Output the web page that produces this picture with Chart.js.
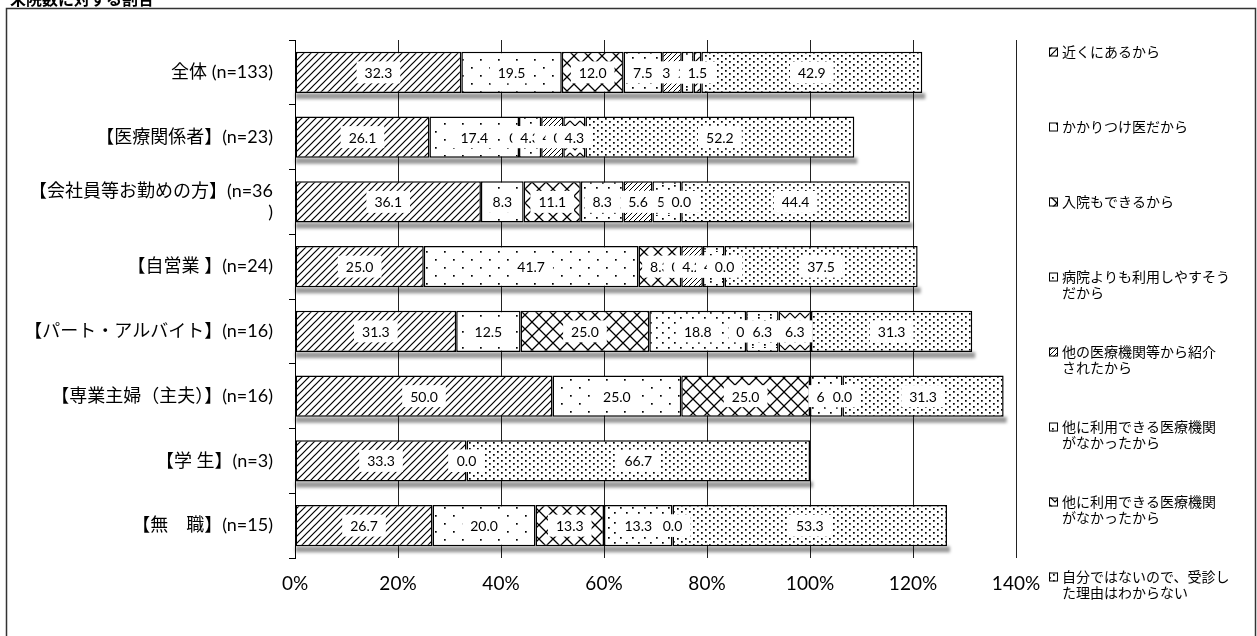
<!DOCTYPE html>
<html>
<head>
<meta charset="utf-8">
<script src="https://cdn.jsdelivr.net/npm/chart.js@4.4.0/dist/chart.umd.min.js"></script>
<style>
  body { margin: 0; background: #fff; }
  canvas { display: block; }
</style>
</head>
<body>
<canvas id="myChart" width="1257" height="636"></canvas>
<script>
// カテゴリ（属性）
var categories = ['全体 (n=133)', '【医療関係者】(n=23)', ['【会社員等お勤めの方】(n=36', ')'],
  '【自営業 】(n=24)', '【パート・アルバイト】(n=16)', '【専業主婦（主夫）】(n=16)', '【学 生】(n=3)', '【無　職】(n=15)'];

// 凡例（理由）
var reasons = [
  ['近くにあるから'],
  ['かかりつけ医だから'],
  ['入院もできるから'],
  ['病院よりも利用しやすそう', 'だから'],
  ['他の医療機関等から紹介', 'されたから'],
  ['他に利用できる医療機関', 'がなかったから'],
  ['他に利用できる医療機関', 'がなかったから'],
  ['自分ではないので、受診し', 'た理由はわからない']
];

// 各理由の割合（%）
var near     = [32.3, 26.1, 36.1, 25.0, 31.3, 50.0, 33.3, 26.7];
var family   = [19.5, 17.4,  8.3, 41.7, 12.5, 25.0,  0.0, 20.0];
var inpat    = [12.0,  0.0, 11.1,  8.3, 25.0, 25.0,  0.0, 13.3];
var easier   = [ 7.5,  4.3,  8.3,  0.0, 18.8,  6.3,  0.0, 13.3];
var referred = [ 3.8,  4.3,  5.6,  4.2,  0.0,  0.0,  0.0,  0.0];
var noOther1 = [ 2.3,  0.0,  5.6,  4.2,  6.3,  0.0,  0.0,  0.0];
var noOther2 = [ 1.5,  4.3,  0.0,  0.0,  6.3,  0.0,  0.0,  0.0];
var unknown  = [42.9, 52.2, 44.4, 37.5, 31.3, 31.3, 66.7, 53.3];

var xTicks = [0, 20, 40, 60, 80, 100, 120, 140];

var canvas = document.getElementById('myChart');
var ctx = canvas.getContext('2d');

// 模様を作る
function tile(w, h, draw) {
  var c = document.createElement('canvas');
  c.width = w; c.height = h;
  var g = c.getContext('2d');
  g.fillStyle = '#fff';
  g.fillRect(0, 0, w, h);
  g.strokeStyle = '#000';
  g.fillStyle = '#000';
  draw(g);
  return ctx.createPattern(c, 'repeat');
}
function dots(list) {
  return function (g) {
    list.forEach(function (p) { g.fillRect(p[0], p[1], 1.7, 1.7); });
  };
}
function diag(n, lw) {
  return function (g) {
    g.lineWidth = lw;
    g.beginPath();
    g.moveTo(-1, n + 1); g.lineTo(n + 1, -1);
    g.moveTo(-1, 1); g.lineTo(1, -1);
    g.moveTo(n - 1, n + 1); g.lineTo(n + 1, n - 1);
    g.stroke();
  };
}

var patterns = [
  tile(7, 7, diag(7, 1.2)),
  tile(18, 16, dots([[3, 3], [12, 11]])),
  tile(14, 14, function (g) {
    g.lineWidth = 1.3;
    g.beginPath();
    g.moveTo(0, 0); g.lineTo(14, 14);
    g.moveTo(14, 0); g.lineTo(0, 14);
    g.stroke();
  }),
  tile(12, 10, dots([[2, 2], [8, 7]])),
  tile(5, 5, diag(5, 1)),
  tile(12, 12, dots([[2, 2], [2, 5], [8, 8], [8, 11]])),
  tile(10, 8, function (g) {
    g.lineWidth = 1.2;
    g.beginPath();
    g.moveTo(0, 1); g.lineTo(5, 6); g.lineTo(10, 1);
    g.stroke();
  }),
  tile(8, 6, dots([[1, 1], [5, 4]]))
];

var series = [near, family, inpat, easier, referred, noOther1, noOther2, unknown];

var numFont = "Lato, 'Noto Sans CJK JP', sans-serif";
var jpFont = "Lato, 'Noto Sans CJK JP', sans-serif";

// 影
var shadowPlugin = {
  id: 'barShadow',
  beforeDatasetsDraw: function (chart) {
    var metas = chart.getSortedVisibleDatasetMetas();
    var c = chart.ctx;
    for (var i = 0; i < categories.length; i++) {
      var left = Infinity, right = -Infinity, y = 0, h = 0;
      metas.forEach(function (m) {
        var el = m.data[i];
        left = Math.min(left, el.base, el.x);
        right = Math.max(right, el.base, el.x);
        y = el.y; h = el.height;
      });
      c.save();
      c.filter = 'blur(1.5px)';
      c.fillStyle = 'rgba(0,0,0,0.4)';
      c.fillRect(left, y + h / 2, right - left + 3, 6);
      c.restore();
    }
  }
};

// データラベル
var labelPlugin = {
  id: 'valueLabels',
  afterDatasetsDraw: function (chart) {
    var c = chart.ctx;
    c.save();
    c.font = '14px ' + numFont;
    c.textAlign = 'center';
    c.textBaseline = 'middle';
    chart.getSortedVisibleDatasetMetas().forEach(function (m) {
      var data = chart.data.datasets[m.index].data;
      m.data.forEach(function (el, i) {
        var txt = data[i].toFixed(1);
        var cx = (el.x + el.base) / 2;
        var tw = c.measureText(txt).width;
        c.fillStyle = '#fff';
        c.fillRect(cx - tw / 2 - 8, el.y - 11, tw + 16, 22);
        c.fillStyle = '#000';
        c.fillText(txt, cx, el.y + 1);
      });
    });
    c.restore();
  }
};

// 枠・タイトル・凡例
var framePlugin = {
  id: 'frame',
  beforeDraw: function (chart) {
    var c = chart.ctx;
    c.save();
    c.fillStyle = '#fff';
    c.fillRect(0, 0, chart.width, chart.height);
    c.restore();
  },
  afterDraw: function (chart) {
    var c = chart.ctx;
    c.save();
    c.strokeStyle = '#333';
    c.lineWidth = 1.5;
    c.strokeRect(6.5, 8.5, 1249, 700);

    c.fillStyle = '#000';
    c.font = "bold 16px 'Noto Sans CJK JP', sans-serif";
    c.textBaseline = 'alphabetic';
    c.textAlign = 'left';
    c.fillText('来院数に対する割合', 10, 5);

    c.font = "14px 'Noto Sans CJK JP', sans-serif";
    c.textBaseline = 'middle';
    reasons.forEach(function (lines, k) {
      var yc = 52 + k * 75;
      c.fillStyle = patterns[k];
      c.fillRect(1049, yc - 4.5, 9, 9);
      c.strokeStyle = '#000';
      c.lineWidth = 1;
      c.strokeRect(1049.5, yc - 4, 8, 8);
      c.fillStyle = '#000';
      lines.forEach(function (t, j) {
        c.fillText(t, 1062, yc + j * 16);
      });
    });
    c.restore();
  }
};

var datasets = series.map(function (vals, k) {
  return {
    label: reasons[k].join(''),
    data: vals,
    backgroundColor: patterns[k],
    borderColor: '#000',
    borderWidth: 1.5,
    borderSkipped: false,
    categoryPercentage: 0.64,
    barPercentage: 1
  };
});

var myChart = new Chart(canvas, {
  type: 'bar',
  data: { labels: categories, datasets: datasets },
  plugins: [framePlugin, shadowPlugin, labelPlugin],
  options: {
    indexAxis: 'y',
    responsive: false,
    animation: false,
    devicePixelRatio: 1,
    layout: { padding: { left: 0, right: 241, top: 40, bottom: 0 } },
    plugins: { legend: { display: false }, tooltip: { enabled: false } },
    scales: {
      x: {
        stacked: true,
        min: 0,
        max: 140,
        afterBuildTicks: function (s) { s.ticks = xTicks.map(function (v) { return { value: v }; }); },
        afterFit: function (s) { s.height = 78; },
        ticks: {
          callback: function (v) { return v + '%'; },
          color: '#000',
          font: { size: 19, family: numFont },
          padding: 14,
          maxRotation: 0
        },
        grid: { color: '#222', lineWidth: 1, drawTicks: false },
        border: { display: false }
      },
      y: {
        stacked: true,
        afterFit: function (s) { s.width = 295; },
        ticks: {
          color: '#000',
          font: { size: 18, family: jpFont },
          padding: 16
        },
        grid: { drawOnChartArea: false, tickLength: 6, color: '#000', offset: true },
        border: { color: '#000', width: 1 }
      }
    }
  }
});
</script>
</body>
</html>
